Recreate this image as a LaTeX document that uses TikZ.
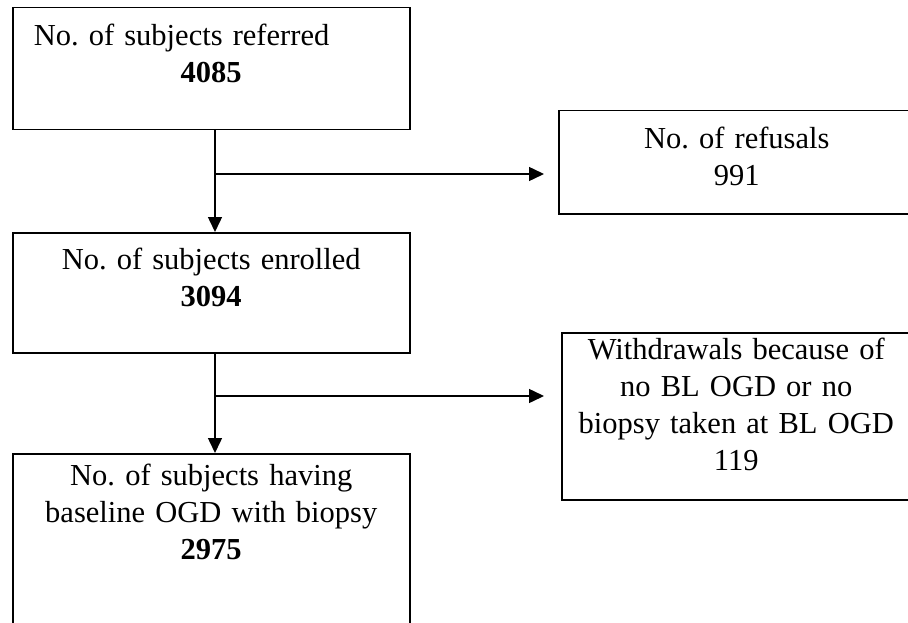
\documentclass[tikz,border=0pt]{standalone}
\usepackage{fontspec}
\setmainfont{Liberation Serif}
\usepackage{tikz}
\usetikzlibrary{arrows.meta,positioning,calc}
\frenchspacing
\tikzset{
  >={Triangle[length=15pt,width=14pt]},
  font=\fontsize{30.5}{37}\selectfont,
  flowbox/.style={
    draw=black, line width=1.5pt, inner sep=0pt, align=center,
    anchor=north west},
  flowline/.style={->, line width=1.5pt},
}

\begin{document}
\begin{tikzpicture}[x=1pt, y=-1pt]
\useasboundingbox (0,0) rectangle (908,623);

% ---------- main column ----------
\node[flowbox, text width=397pt, text height=38pt, text depth=84pt] (refer) at (12,7)
  {\makebox[\linewidth][l]{\hspace*{21pt}No. of subjects referred}\\ \textbf{4085}};
\node[flowbox, text width=397pt, text height=37pt, text depth=83pt] (enrol) at (12,232)
  {No. of subjects enrolled\\ \textbf{3094}};
\node[flowbox, text width=397pt, text height=32pt, text depth=160pt] (baseln) at (12,453)
  {No. of subjects having\\ baseline OGD with biopsy\\ \textbf{2975}};

% ---------- side boxes (run off the right edge) ----------
\node[flowbox, text width=356pt, text height=38pt, text depth=65pt] (refus) at (558,110)
  {No. of refusals\\ 991};
\node[flowbox, text width=349pt, text height=27pt, text depth=140pt] (withd) at (561,332)
  {Withdrawals because of\\ no BL OGD or no\\ biopsy taken at BL OGD\\ 119};

% ---------- junctions ----------
\coordinate (j1) at (215,174);
\coordinate (j2) at (215,396);

% ---------- connectors ----------
\draw[flowline] (refer.south -| j1) -- (enrol.north -| j1);
\draw[flowline, shorten >=14pt] (j1) -- (j1 -| refus.west);
\draw[flowline] (enrol.south -| j2) -- (baseln.north -| j2);
\draw[flowline, shorten >=17pt] (j2) -- (j2 -| withd.west);

\end{tikzpicture}
\end{document}
